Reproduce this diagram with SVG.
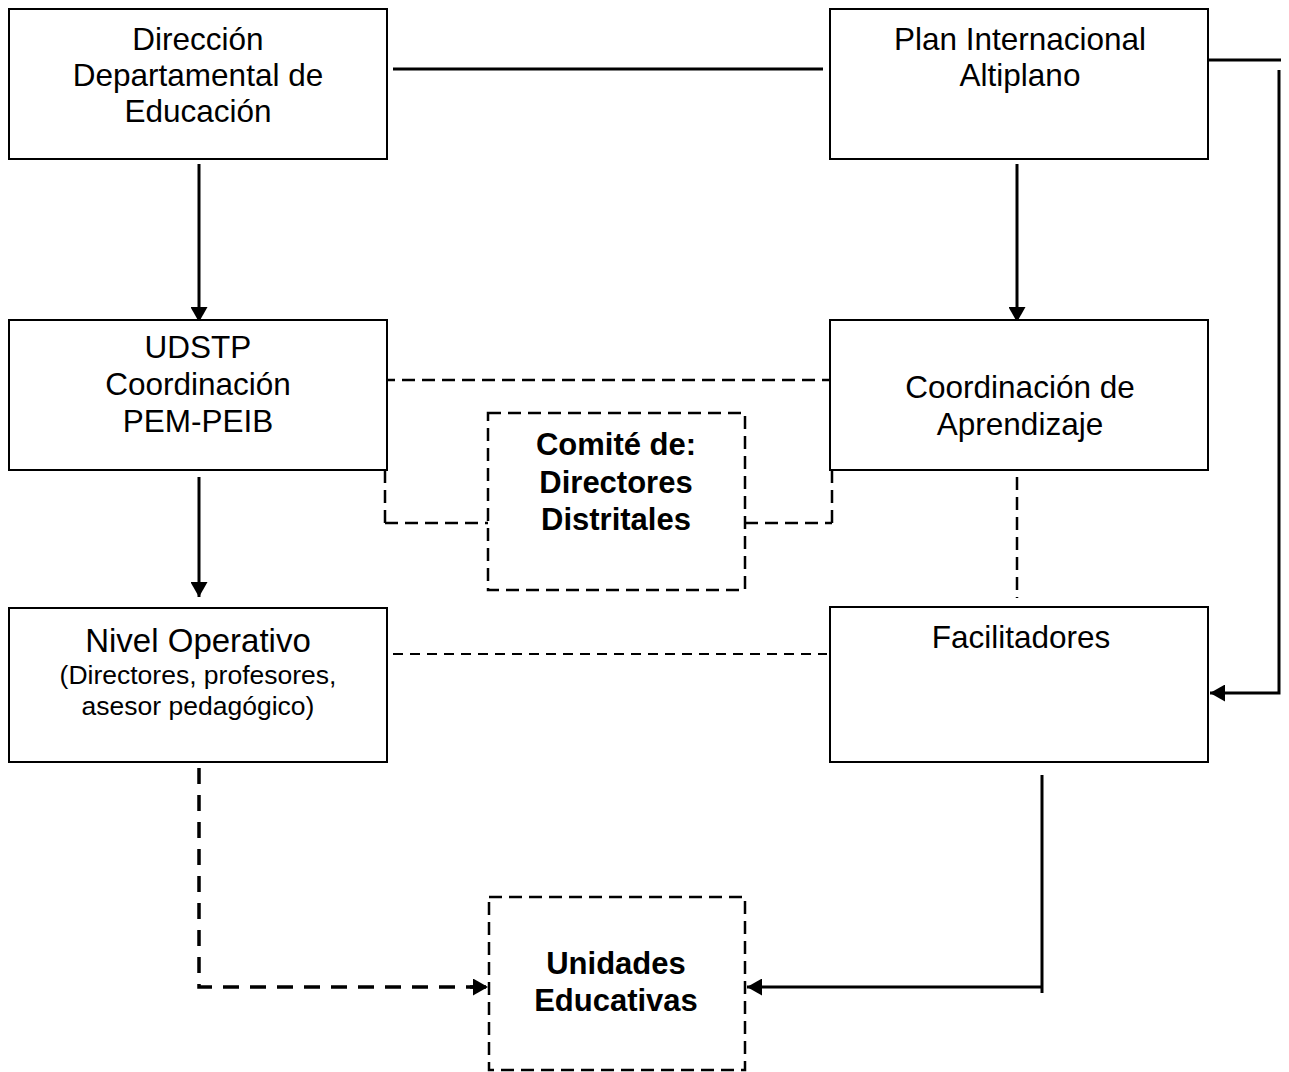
<svg xmlns="http://www.w3.org/2000/svg" width="1289" height="1072" viewBox="0 0 1289 1072">
<style>
  .box { fill: #fff; stroke: #000; stroke-width: 2; }
  .dbox { fill: #fff; stroke: #000; stroke-width: 2.5; stroke-dasharray: 13 7; }
  .t { font-family: "Liberation Sans", Arial, sans-serif; font-size: 31.5px; fill: #000; text-anchor: middle; }
  .b { font-weight: bold; font-size: 31px; }
  .sm { font-size: 26.5px; }
  .lg { font-size: 33px; }
  .solid { fill: none; stroke: #000; stroke-width: 3; }
  .dash { fill: none; stroke: #000; stroke-width: 2.5; stroke-dasharray: 13 7; }
  .dashthin { fill: none; stroke: #000; stroke-width: 2; stroke-dasharray: 10 7; }
  .dashbold { fill: none; stroke: #000; stroke-width: 3.5; stroke-dasharray: 16 11; }
</style>
<defs>
  <marker id="arr" viewBox="0 0 15 17" refX="15" refY="8.5" markerWidth="15" markerHeight="17" markerUnits="userSpaceOnUse" orient="auto">
    <path d="M0,0 L15,8.5 L0,17 z" fill="#000"/>
  </marker>
</defs>
<rect width="1289" height="1072" fill="#fff"/>

<g id="connectors">
  <line class="solid" x1="393" y1="69" x2="823" y2="69"/>
  <line class="solid" x1="199" y1="164" x2="199" y2="322" marker-end="url(#arr)"/>
  <line class="solid" x1="1017" y1="164" x2="1017" y2="322" marker-end="url(#arr)"/>
  <line class="solid" x1="199" y1="477" x2="199" y2="597" marker-end="url(#arr)"/>
  <line class="solid" x1="1208" y1="60" x2="1281" y2="60"/>
  <polyline class="solid" points="1279,70 1279,693 1210,693" marker-end="url(#arr)"/>
  <line class="solid" x1="1042" y1="775" x2="1042" y2="993"/>
  <line class="solid" x1="1042" y1="987" x2="747" y2="987" marker-end="url(#arr)"/>
  <polyline class="dash" points="385,523 385,380 832,380 832,523"/>
  <line class="dash" x1="385" y1="523" x2="488" y2="523"/>
  <line class="dash" x1="745" y1="523" x2="832" y2="523"/>
  <line class="dash" x1="1017" y1="477" x2="1017" y2="598"/>
  <line class="dashthin" x1="393" y1="654" x2="827" y2="654"/>
  <polyline class="dashbold" points="199,768 199,987 474,987"/>
  <line class="dashbold" x1="470" y1="987" x2="488" y2="987" stroke-dasharray="none" marker-end="url(#arr)"/>
</g>

<g id="node-direccion">
  <rect class="box" x="9" y="9" width="378" height="150"/>
  <text class="t" x="198" y="50">Dirección</text>
  <text class="t" x="198" y="86">Departamental de</text>
  <text class="t" x="198" y="122">Educación</text>
</g>

<g id="node-plan">
  <rect class="box" x="830" y="9" width="378" height="150"/>
  <text class="t" x="1020" y="50">Plan Internacional</text>
  <text class="t" x="1020" y="86">Altiplano</text>
</g>

<g id="node-udstp">
  <rect class="box" x="9" y="320" width="378" height="150"/>
  <text class="t" x="198" y="358">UDSTP</text>
  <text class="t" x="198" y="395">Coordinación</text>
  <text class="t" x="198" y="432">PEM-PEIB</text>
</g>

<g id="node-coordinacion">
  <rect class="box" x="830" y="320" width="378" height="150"/>
  <text class="t" x="1020" y="398">Coordinación de</text>
  <text class="t" x="1020" y="435">Aprendizaje</text>
</g>

<g id="node-comite">
  <rect class="dbox" x="488" y="413" width="257" height="177"/>
  <text class="t b" x="616" y="455">Comité de:</text>
  <text class="t b" x="616" y="493">Directores</text>
  <text class="t b" x="616" y="530">Distritales</text>
</g>

<g id="node-nivel">
  <rect class="box" x="9" y="608" width="378" height="154"/>
  <text class="t lg" x="198" y="652">Nivel Operativo</text>
  <text class="t sm" x="198" y="684">(Directores, profesores,</text>
  <text class="t sm" x="198" y="715">asesor pedagógico)</text>
</g>

<g id="node-facilitadores">
  <rect class="box" x="830" y="607" width="378" height="155"/>
  <text class="t" x="1021" y="648">Facilitadores</text>
</g>

<g id="node-unidades">
  <rect class="dbox" x="489" y="897" width="256" height="173"/>
  <text class="t b" x="616" y="974">Unidades</text>
  <text class="t b" x="616" y="1011">Educativas</text>
</g>
</svg>
